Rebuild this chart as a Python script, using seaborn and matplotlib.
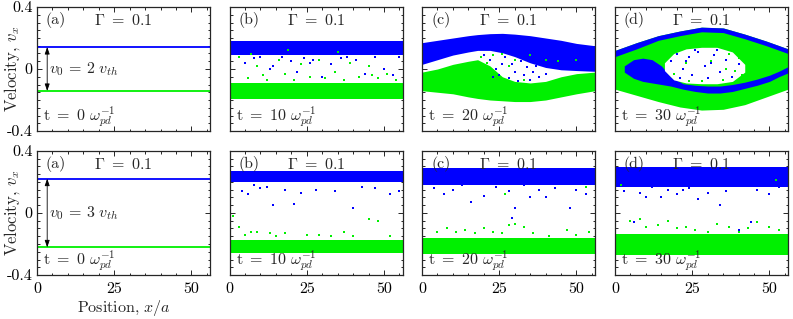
import numpy as np
import pandas as pd
import matplotlib
matplotlib.use("Agg")
import matplotlib.pyplot as plt
import seaborn as sns
from matplotlib.ticker import MultipleLocator, FixedLocator, FixedFormatter

# ---------------- data ----------------
L_BOX = 56.0
GAMMA = 0.1
V0_ROW = [0.142, 0.222]          # beam speed, top row (2 v_th) and bottom row (3 v_th)
V0_LABEL = ["2", "3"]
TIMES = [0, 10, 20, 30]
PANEL_TAGS = ["(a)", "(b)", "(c)", "(d)"]

# --- top row (v0 = 2 vth) ---
# (b) t = 10 : flat bands
T_B_BLUE = [0.09, 0.182]
T_B_GREEN = [-0.192, -0.088]
T_B_BLUE_DOTS_X = [5, 8, 13, 14, 17, 20, 22, 24, 27, 30, 33, 36, 38, 41, 44, 47, 50, 53, 55, 10, 26]
T_B_BLUE_DOTS_V = [0.04, 0.07, 0.0, 0.02, 0.08, 0.05, -0.02, 0.07, 0.06, -0.05, 0.03, 0.07, 0.08, 0.06, -0.03, 0.08, 0.0, -0.04, 0.08, 0.075, 0.04]
T_B_GREEN_DOTS_X = [3, 6, 9, 11, 12, 16, 18, 21, 23, 26, 29, 31, 34, 37, 39, 42, 45, 48, 51, 54, 7, 19, 35, 46]
T_B_GREEN_DOTS_V = [0.08, -0.06, 0.02, -0.04, -0.07, 0.06, -0.03, -0.07, 0.03, -0.05, 0.06, -0.06, -0.02, -0.07, 0.04, -0.05, 0.02, -0.06, -0.03, -0.07, 0.1, 0.12, 0.11, -0.04]

# (c) t = 20 : undulating bands
T_C_X = [0, 5, 10, 15, 18, 22, 26, 30, 35, 40, 45, 50, 56]
T_C_BLUE_TOP = [0.17, 0.185, 0.20, 0.215, 0.222, 0.228, 0.23, 0.225, 0.215, 0.20, 0.185, 0.165, 0.15]
T_C_BLUE_BOT = [0.03, 0.06, 0.09, 0.11, 0.12, 0.12, 0.105, 0.08, 0.04, 0.01, -0.005, -0.01, -0.015]
T_C_GREEN_TOP = [-0.02, 0.0, 0.03, 0.05, 0.06, 0.02, -0.05, -0.08, -0.09, -0.08, -0.05, -0.03, -0.02]
T_C_GREEN_BOT = [-0.14, -0.15, -0.16, -0.18, -0.19, -0.20, -0.205, -0.21, -0.21, -0.20, -0.18, -0.16, -0.14]
T_C_BLUE_DOTS_X = [22, 24, 25, 27, 28, 29, 30, 31, 32, 33, 34, 35, 36, 37, 38, 26, 23, 40, 20]
T_C_BLUE_DOTS_V = [0.06, 0.0, -0.04, 0.08, -0.06, 0.03, -0.02, -0.08, 0.05, -0.04, 0.01, -0.07, -0.02, 0.02, -0.05, 0.03, -0.05, -0.03, 0.09]
T_C_GREEN_DOTS_X = [21, 23, 19, 26, 28, 30, 33, 35, 40, 44, 50]
T_C_GREEN_DOTS_V = [0.04, 0.09, 0.08, 0.1, 0.02, 0.06, -0.07, 0.09, 0.06, 0.05, 0.06]

# (d) t = 30 : vortex (hole) in phase space
T_D_X = [0, 7, 14, 21, 28, 35, 42, 49, 56]
T_D_TOP = [0.12, 0.17, 0.215, 0.245, 0.27, 0.265, 0.225, 0.18, 0.13]
T_D_BLUE_LAYER_BOT = [0.08, 0.13, 0.185, 0.215, 0.24, 0.235, 0.195, 0.15, 0.10]
T_D_BOT = [-0.13, -0.17, -0.21, -0.245, -0.265, -0.26, -0.23, -0.18, -0.13]
T_D_ARC_X = [3, 6, 9, 12, 15, 18, 22, 26, 30, 34, 38, 42, 46, 50, 53, 56]
T_D_ARC_TOP = [0.02, 0.06, 0.07, 0.06, 0.02, -0.05, -0.095, -0.105, -0.11, -0.11, -0.10, -0.085, -0.065, -0.04, -0.015, 0.015]
T_D_ARC_BOT = [-0.02, -0.06, -0.08, -0.09, -0.10, -0.11, -0.13, -0.145, -0.155, -0.155, -0.145, -0.125, -0.105, -0.08, -0.05, -0.025]
T_D_HOLE_X = [16, 19, 23, 28, 33, 38, 42]
T_D_HOLE_TOP = [0.04, 0.10, 0.13, 0.14, 0.14, 0.11, 0.03]
T_D_HOLE_BOT = [-0.01, -0.07, -0.09, -0.095, -0.095, -0.08, -0.02]
T_D_BLUE_DOTS_X = [18, 20, 22, 24, 25, 27, 29, 30, 32, 34, 36, 38, 40, 21, 26, 33, 23, 31]
T_D_BLUE_DOTS_V = [0.05, 0.10, 0.0, 0.08, -0.04, 0.11, 0.02, -0.06, 0.09, -0.02, 0.06, -0.05, 0.03, -0.06, 0.12, 0.12, 0.05, 0.04]
T_D_GREEN_DOTS_X = [19, 23, 28, 31, 35, 37, 39, 41, 24, 36, 40]
T_D_GREEN_DOTS_V = [-0.03, 0.04, -0.08, 0.05, -0.07, 0.1, -0.01, -0.04, -0.08, 0.0, 0.07]

# --- bottom row (v0 = 3 vth) : flat bands ---
B_BLUE = {1: [0.202, 0.268], 2: [0.18, 0.29], 3: [0.168, 0.295]}
B_GREEN = {1: [-0.258, -0.172], 2: [-0.262, -0.162], 3: [-0.272, -0.135]}
B_BLUE_DOTS_X = {
    1: [4, 6, 8, 10, 12, 14, 18, 21, 23, 28, 34, 40, 43, 47, 52, 55],
    2: [4, 7, 10, 13, 16, 20, 24, 28, 30, 33, 35, 38, 40, 43, 48, 50, 53, 29],
    3: [3, 6, 8, 10, 12, 17, 20, 24, 27, 30, 34, 36, 40, 44, 46, 50, 53, 15, 22],
}
B_BLUE_DOTS_V = {
    1: [0.14, 0.12, 0.18, 0.16, 0.17, 0.05, 0.15, 0.06, 0.13, 0.15, 0.14, 0.03, 0.17, 0.16, 0.12, 0.14],
    2: [0.16, 0.12, 0.15, 0.18, 0.07, 0.11, 0.17, 0.14, 0.03, 0.18, 0.10, 0.15, 0.10, 0.16, 0.03, 0.15, 0.12, -0.03],
    3: [0.14, -0.06, 0.13, 0.10, 0.17, 0.15, 0.12, 0.16, 0.09, 0.13, 0.05, 0.14, -0.11, -0.06, 0.15, 0.12, 0.17, 0.1, 0.15],
}
B_GREEN_DOTS_X = {
    1: [3, 5, 7, 9, 13, 18, 25, 33, 37, 40, 45, 48, 52, 1, 29, 15],
    2: [5, 8, 11, 14, 17, 20, 23, 26, 28, 30, 33, 36, 41, 47, 50, 54, 27, 53],
    3: [5, 8, 10, 14, 17, 20, 23, 26, 30, 33, 37, 40, 43, 46, 50, 53, 2, 52],
}
B_GREEN_DOTS_V = {
    1: [-0.09, -0.14, -0.12, -0.12, -0.13, -0.13, -0.14, -0.15, -0.12, -0.15, -0.04, -0.05, -0.15, -0.02, -0.14, -0.15],
    2: [-0.12, -0.10, -0.12, -0.11, -0.13, -0.10, -0.12, -0.13, -0.08, -0.07, -0.09, -0.13, -0.15, -0.11, -0.14, -0.12, 0.12, 0.17],
    3: [-0.05, -0.04, -0.09, -0.08, -0.05, -0.10, -0.09, -0.11, -0.12, -0.07, -0.09, -0.12, -0.10, -0.06, -0.09, -0.11, 0.18, 0.21],
}

BLUE = "#0000ff"
GREEN = "#00f000"

# ---------------- style ----------------
sns.set_theme(style="ticks")
plt.rcParams.update({
    "font.family": ["cmr10", "DejaVu Serif"],
    "mathtext.fontset": "cm",
    "axes.unicode_minus": False,
    "axes.formatter.use_mathtext": True,
    "axes.edgecolor": "#262626",
    "axes.linewidth": 0.9,
    "xtick.direction": "in",
    "ytick.direction": "in",
    "xtick.top": True,
    "ytick.right": True,
    "xtick.major.size": 3.5,
    "ytick.major.size": 3.5,
    "xtick.minor.size": 1.8,
    "ytick.minor.size": 1.8,
    "xtick.color": "#262626",
    "ytick.color": "#262626",
    "xtick.labelcolor": "black",
    "ytick.labelcolor": "black",
})

W, H = 793, 319
fig = plt.figure(figsize=(W / 100, H / 100), dpi=100)
lefts = [37, 229.5, 422, 615]
tops = [7, 151]
aw, ah = 173, 124


def dots(ax, xs, vs, color):
    df = pd.DataFrame({"x": xs, "v": vs})
    sns.scatterplot(data=df, x="x", y="v", ax=ax, color=color, s=4,
                    linewidth=0, marker="s", legend=False, zorder=4)


def band(ax, lo, hi, color, z=2):
    ax.fill_between([0, L_BOX], [lo, lo], [hi, hi], color=color, lw=0, zorder=z)


axes = []
for r in range(2):
    for c in range(4):
        ax = fig.add_axes([lefts[c] / W, 1 - (tops[r] + ah) / H, aw / W, ah / H])
        ax.set_xlim(0, L_BOX)
        ax.set_ylim(-0.4, 0.4)
        axes.append(ax)
        v0 = V0_ROW[r]
        if c == 0:
            df = pd.DataFrame({"x": [0, L_BOX, 0, L_BOX], "v": [v0, v0, -v0, -v0],
                               "beam": ["b1", "b1", "b2", "b2"]})
            sns.lineplot(data=df, x="x", y="v", hue="beam", palette=[BLUE, GREEN],
                         ax=ax, lw=1.3, legend=False, zorder=3)
            ax.annotate("", xy=(3.3, -v0), xytext=(3.3, v0),
                        arrowprops=dict(arrowstyle="<|-|>,head_length=0.35,head_width=0.12",
                                        color="black", lw=0.6, shrinkA=0, shrinkB=0))
            ax.text(4.0, 0.0, r"$v_0\,=\,%s\ v_{th}$" % V0_LABEL[r], fontsize=11.5,
                    va="center", ha="left")
        elif r == 0 and c == 1:
            band(ax, *T_B_BLUE, BLUE)
            band(ax, *T_B_GREEN, GREEN)
            dots(ax, T_B_BLUE_DOTS_X, T_B_BLUE_DOTS_V, BLUE)
            dots(ax, T_B_GREEN_DOTS_X, T_B_GREEN_DOTS_V, GREEN)
        elif r == 0 and c == 2:
            ax.fill_between(T_C_X, T_C_GREEN_BOT, T_C_GREEN_TOP, color=GREEN, lw=0, zorder=2)
            ax.fill_between(T_C_X, T_C_BLUE_BOT, T_C_BLUE_TOP, color=BLUE, lw=0, zorder=2)
            dots(ax, T_C_GREEN_DOTS_X, T_C_GREEN_DOTS_V, GREEN)
            dots(ax, T_C_BLUE_DOTS_X, T_C_BLUE_DOTS_V, BLUE)
        elif r == 0 and c == 3:
            ax.fill_between(T_D_X, T_D_BOT, T_D_TOP, color=GREEN, lw=0, zorder=2)
            ax.fill_between(T_D_X, T_D_BLUE_LAYER_BOT, T_D_TOP, color=BLUE, lw=0, zorder=2)
            ax.fill_between(T_D_ARC_X, T_D_ARC_BOT, T_D_ARC_TOP, color=BLUE, lw=0, zorder=2)
            ax.fill_between(T_D_HOLE_X, T_D_HOLE_BOT, T_D_HOLE_TOP, color="white", lw=0, zorder=3)
            dots(ax, T_D_GREEN_DOTS_X, T_D_GREEN_DOTS_V, GREEN)
            dots(ax, T_D_BLUE_DOTS_X, T_D_BLUE_DOTS_V, BLUE)
        else:
            band(ax, *B_BLUE[c], BLUE)
            band(ax, *B_GREEN[c], GREEN)
            dots(ax, B_BLUE_DOTS_X[c], B_BLUE_DOTS_V[c], BLUE)
            dots(ax, B_GREEN_DOTS_X[c], B_GREEN_DOTS_V[c], GREEN)

        ax.text(0.11, 0.895, PANEL_TAGS[c], transform=ax.transAxes, fontsize=11.5,
                ha="center", va="center", zorder=6)
        ax.text(0.5, 0.895, r"$\Gamma\ =\ %.1f$" % GAMMA, transform=ax.transAxes,
                fontsize=11.5, ha="center", va="center", zorder=6)
        ax.text(0.035, 0.115, r"$\mathrm{t}\ =\ %d\ \omega_{pd}^{-1}$" % TIMES[c],
                transform=ax.transAxes, fontsize=11.5, ha="left", va="center", zorder=6)

        ax.xaxis.set_major_locator(FixedLocator([0, 25, 50]))
        ax.xaxis.set_minor_locator(MultipleLocator(5))
        ax.yaxis.set_major_locator(FixedLocator([-0.4, 0, 0.4]))
        ax.yaxis.set_minor_locator(MultipleLocator(0.05))
        ax.set_xlabel("")
        ax.set_ylabel("")
        if r == 1:
            ax.xaxis.set_major_formatter(FixedFormatter(["0", "25", "50"]))
        else:
            ax.set_xticklabels([])
        if c == 0:
            ax.yaxis.set_major_formatter(FixedFormatter(["-0.4", "0", "0.4"]))
            ax.set_ylabel(r"Velocity, $v_x$", fontsize=12)
            ax.yaxis.set_label_coords(-0.085, 0.5)
        else:
            ax.set_yticklabels([])
        ax.tick_params(which="both", labelsize=11.5, width=0.7)
        ax.tick_params(axis="x", pad=5)
        ax.tick_params(axis="y", pad=3)
        for s in ax.spines.values():
            s.set_zorder(7)

axes[4].set_xlabel(r"Position, $x/a$", fontsize=11.5)
axes[4].xaxis.set_label_coords(0.5, -0.185)

fig.savefig("out.png", dpi=100)
